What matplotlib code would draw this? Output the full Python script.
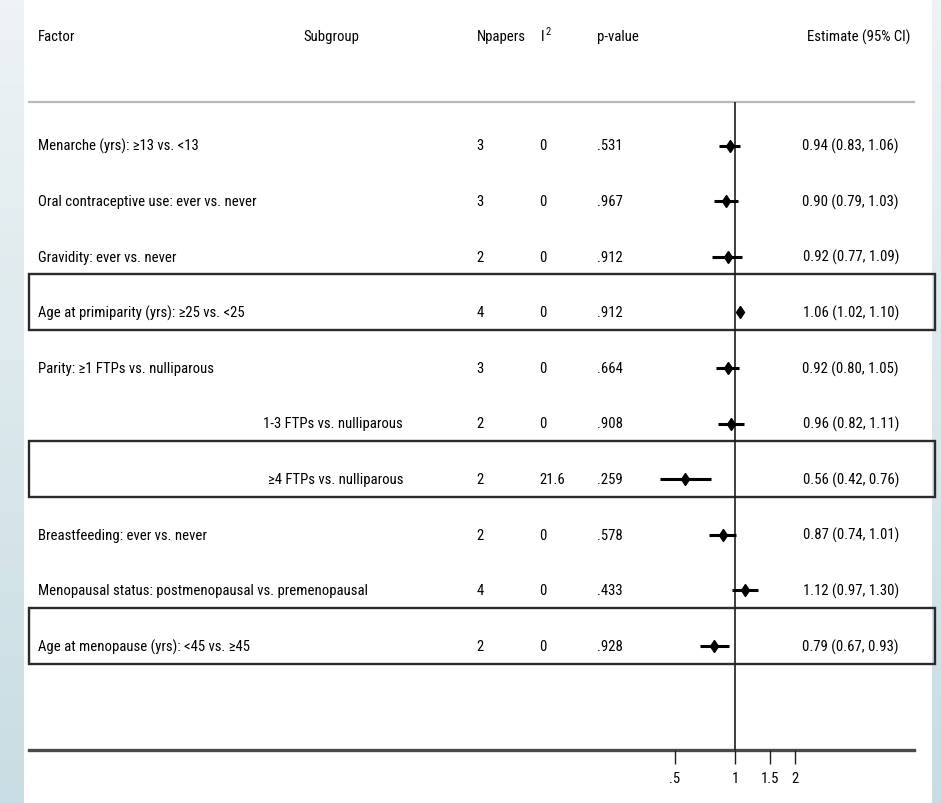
import numpy as np
import matplotlib.pyplot as plt
from matplotlib.patches import Rectangle
from matplotlib.colors import LinearSegmentedColormap
from matplotlib import font_manager

# Forest plot data
factors = [
    "Menarche (yrs): \u226513 vs. <13",
    "Oral contraceptive use: ever vs. never",
    "Gravidity: ever vs. never",
    "Age at primiparity (yrs): \u226525 vs. <25",
    "Parity: \u22651 FTPs vs. nulliparous",
    "",
    "",
    "Breastfeeding: ever vs. never",
    "Menopausal status: postmenopausal vs. premenopausal",
    "Age at menopause (yrs): <45 vs. \u226545",
]
subgroups = ["", "", "", "", "", "1-3 FTPs vs. nulliparous", "\u22654 FTPs vs. nulliparous", "", "", ""]
npapers = [3, 3, 2, 4, 3, 2, 2, 2, 4, 2]
i2 = ["0", "0", "0", "0", "0", "0", "21.6", "0", "0", "0"]
pvalues = [".531", ".967", ".912", ".912", ".664", ".908", ".259", ".578", ".433", ".928"]
estimates = [0.94, 0.90, 0.92, 1.06, 0.92, 0.96, 0.56, 0.87, 1.12, 0.79]
lower = [0.83, 0.79, 0.77, 1.02, 0.80, 0.82, 0.42, 0.74, 0.97, 0.67]
upper = [1.06, 1.03, 1.09, 1.10, 1.05, 1.11, 0.76, 1.01, 1.30, 0.93]
highlighted = [3, 6, 9]
xticks = [0.5, 1, 1.5, 2]
xticklabels = [".5", "1", "1.5", "2"]


# prefer a condensed sans; fall back to a smaller regular one
def pick_font():
    for name, size in [("Liberation Sans Narrow", 11.5), ("Roboto Condensed", 10.6),
                       ("Liberation Sans", 9.8)]:
        try:
            font_manager.findfont(font_manager.FontProperties(family=name),
                                  fallback_to_default=False)
            return name, size
        except ValueError:
            pass
    return "DejaVu Sans", 9.0


FONT, FS = pick_font()
plt.rcParams['font.family'] = [FONT, "DejaVu Sans"]

W, H = 941, 804
fig = plt.figure(figsize=(W / 100, H / 100), dpi=100)
fig.patch.set_facecolor("white")

# page background: pale blue strips at the sides
bg = fig.add_axes([0, 0, 1, 1], zorder=-10)
grad = np.linspace(0, 1, 256).reshape(-1, 1)
side_cmap = LinearSegmentedColormap.from_list("side", ["#eef3f5", "#dbe8ec", "#c8dde3"])
bg.imshow(grad, cmap=side_cmap, aspect="auto", extent=(0, 24, H, 0))
bg.imshow(grad, cmap=side_cmap, aspect="auto", extent=(932, W, H, 0))
bg.set_xlim(0, W)
bg.set_ylim(H, 0)
bg.axis("off")

rows = np.arange(len(factors))
row0, row_step = 146.5, 55.6
top_px, bot_px, left_px, right_px = 103, 751, 29, 914


def row_of(py):
    return (py - row0) / row_step


# table axes: x in page pixels, y in rows
ax = fig.add_axes([left_px / W, 1 - bot_px / H, (right_px - left_px) / W, (bot_px - top_px) / H])
ax.set_xlim(left_px, right_px)
ax.set_ylim(row_of(bot_px), row_of(top_px))
ax.set_xticks([])
ax.set_yticks([])
ax.patch.set_alpha(0)
for s in ["left", "right"]:
    ax.spines[s].set_visible(False)
ax.spines["top"].set_color("#b8b8b8")
ax.spines["top"].set_linewidth(1.6)
ax.spines["bottom"].set_color("#4a4a4a")
ax.spines["bottom"].set_linewidth(2.4)

# column headers
hy = row_of(37)
hdr = dict(fontsize=FS, va="center", clip_on=False)
ax.text(38, hy, "Factor", ha="left", **hdr)
ax.text(303, hy, "Subgroup", ha="left", **hdr)
ax.text(477, hy, "Npapers", ha="left", **hdr)
ax.text(541, hy, "I", ha="left", **hdr)
ax.text(545, row_of(32), "2", ha="left", va="center", fontsize=FS * 0.72, clip_on=False)
ax.text(597, hy, "p-value", ha="left", **hdr)
ax.text(910, hy, "Estimate (95% CI)", ha="right", **hdr)

# table body
for r in rows:
    kw = dict(fontsize=FS, va="center")
    ax.text(38, r, factors[r], ha="left", **kw)
    ax.text(403, r, subgroups[r], ha="right", **kw)
    ax.text(480, r, str(npapers[r]), ha="center", **kw)
    ax.text(539, r, i2[r], ha="left", **kw)
    ax.text(597, r, pvalues[r], ha="left", **kw)
    ax.text(899, r, "%.2f (%.2f, %.2f)" % (estimates[r], lower[r], upper[r]),
            ha="right", clip_on=False, **kw)

# boxes round the highlighted rows
for r in highlighted:
    ax.add_patch(Rectangle((29, r - 0.68), 935 - 29, 1.0, fill=False,
                           edgecolor="#2b2b2b", lw=1.7, clip_on=False, zorder=5))

# forest panel on a log scale
fx0, fx1 = 640, 830
fx = fig.add_axes([fx0 / W, 1 - bot_px / H, (fx1 - fx0) / W, (bot_px - top_px) / H], sharey=ax)
fx.set_xscale("log")
fx.set_xlim(np.exp((fx0 - 735) / 87), np.exp((fx1 - 735) / 87))
fx.patch.set_alpha(0)
for s in fx.spines.values():
    s.set_visible(False)
fx.axvline(1, color="#1e1e1e", lw=1.2, zorder=1)
fx.hlines(rows, lower, upper, color="black", lw=2.2, zorder=3)
fx.plot(estimates, rows, linestyle="none", marker="d", ms=6.5, color="black", zorder=4)
fx.set_xticks(xticks)
fx.set_xticklabels(xticklabels)
fx.xaxis.set_minor_locator(plt.NullLocator())
fx.tick_params(axis="x", direction="out", length=10, width=1.0, color="#1e1e1e",
               pad=5, labelsize=FS)
fx.tick_params(axis="y", left=False, labelleft=False)
fx.set_ylim(row_of(bot_px), row_of(top_px))

fig.savefig("out.png", dpi=100)
